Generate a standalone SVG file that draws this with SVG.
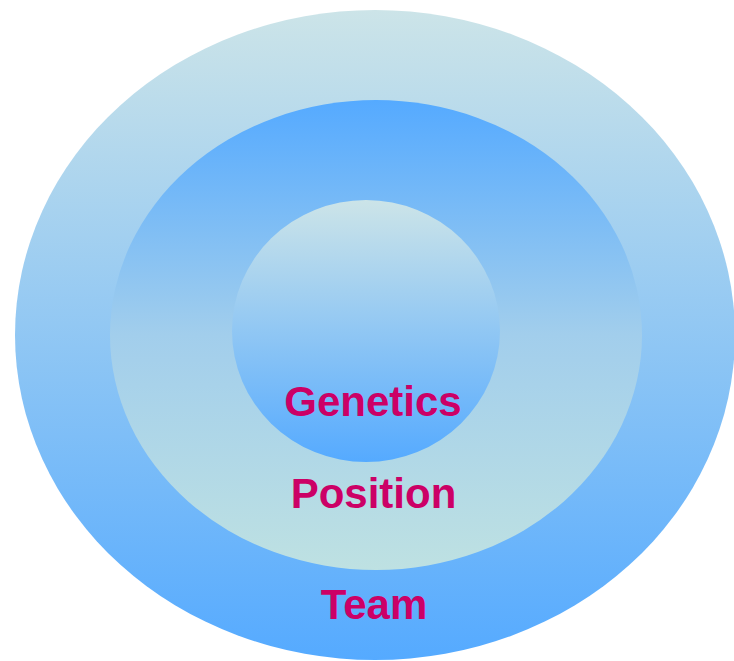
<svg xmlns="http://www.w3.org/2000/svg" width="734" height="661" viewBox="0 0 734 661">
  <defs>
    <linearGradient id="gOuter" x1="0" y1="0" x2="0" y2="1">
      <stop offset="0" stop-color="#cce4e8"/>
      <stop offset="1" stop-color="#55aaff"/>
    </linearGradient>
    <linearGradient id="gMiddle" x1="0" y1="0" x2="0" y2="1">
      <stop offset="0" stop-color="#55aaff"/>
      <stop offset="0.5" stop-color="#a2ceec"/>
      <stop offset="1" stop-color="#bee1e2"/>
    </linearGradient>
    <linearGradient id="gInner" x1="0" y1="0" x2="0" y2="1">
      <stop offset="0" stop-color="#cce4e8"/>
      <stop offset="1" stop-color="#55aaff"/>
    </linearGradient>
  </defs>
  <style>
    .lbl { font-family: "Liberation Sans", Arial, sans-serif; font-weight: bold; font-size: 42px; fill: #cc0066; text-anchor: middle; }
  </style>
  <rect width="734" height="661" fill="#ffffff"/>
  <g id="team">
    <ellipse cx="375" cy="335" rx="360" ry="325" fill="url(#gOuter)"/>
  </g>
  <g id="position">
    <ellipse cx="376" cy="335" rx="266" ry="235" fill="url(#gMiddle)"/>
  </g>
  <g id="genetics">
    <ellipse cx="366" cy="331" rx="134" ry="131" fill="url(#gInner)"/>
  </g>
  <g id="connectors"/>
  <g id="labels">
    <text class="lbl" x="373" y="416">Genetics</text>
    <text class="lbl" x="373.5" y="508">Position</text>
    <text class="lbl" x="374" y="619">Team</text>
  </g>
</svg>
